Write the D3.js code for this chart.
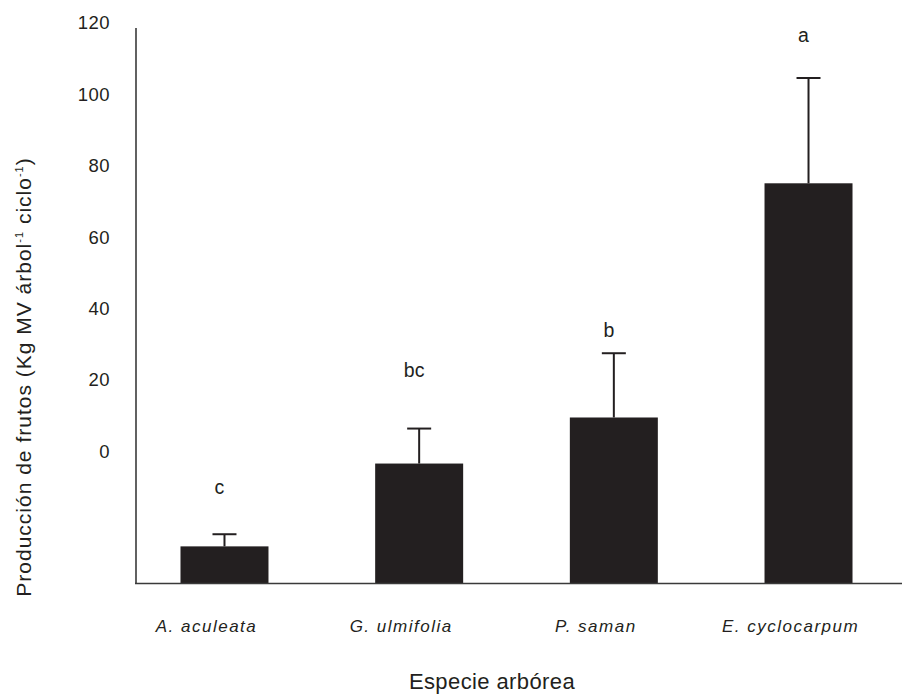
<!DOCTYPE html>
<html><head><meta charset="utf-8">
<script src="https://cdn.jsdelivr.net/npm/d3@7"></script>
<style>body{margin:0;background:#fff}svg{display:block}text{font-family:"Liberation Sans",Arial,Helvetica,sans-serif;fill:#231f20}</style>
</head><body>
<script>
const categories = ["A. aculeata","G. ulmifolia","P. saman","E. cyclocarpum"];
const means = [-26.6, -3.4, 9.5, 75.1];
const errors = [3.4, 9.8, 18.0, 29.5];
const letters = ["c","bc","b","a"];
const letterValues = [-10, 22.8, 34, 116.6];
const tickValues = [0,20,40,60,80,100,120];
const axisMin = -37;

const W=902,H=695;
const svg=d3.select("body").append("svg").attr("width",W).attr("height",H);
const x=d3.scaleBand().domain(categories).range([137,896]).paddingInner(0.548).paddingOuter(0.2234);
const y=d3.scaleLinear().domain([axisMin,120]).range([583.5,23]);
const ink="#231f20";

// y tick labels
svg.selectAll(".yt").data(tickValues).join("text")
  .attr("x",110).attr("y",d=>y(d)).attr("dy","0.35em").attr("text-anchor","end")
  .attr("font-size",18.5).attr("letter-spacing",0.5).text(d=>d);

// bars
svg.selectAll(".bar").data(categories).join("rect")
  .attr("x",d=>x(d)).attr("width",x.bandwidth())
  .attr("y",(d,i)=>y(means[i])).attr("height",(d,i)=>y(axisMin)-y(means[i]))
  .attr("fill",ink);

// error bars
const g=svg.append("g").attr("stroke",ink);
categories.forEach((c,i)=>{
  const cx=x(c)+x.bandwidth()/2;
  g.append("line").attr("x1",cx).attr("x2",cx).attr("y1",y(means[i])).attr("y2",y(means[i]+errors[i])).attr("stroke-width",2);
  g.append("line").attr("x1",cx-12).attr("x2",cx+12).attr("y1",y(means[i]+errors[i])).attr("y2",y(means[i]+errors[i])).attr("stroke-width",2);
});

// letters
svg.selectAll(".lt").data(categories).join("text")
  .attr("x",d=>x(d)+x.bandwidth()/2-5).attr("y",(d,i)=>y(letterValues[i])).attr("dy","0.35em")
  .attr("text-anchor","middle").attr("font-size",19.5).text((d,i)=>letters[i]);

// axes lines
svg.append("line").attr("x1",136).attr("x2",136).attr("y1",28).attr("y2",584).attr("stroke","#3a3a3a").attr("stroke-width",1.6);
svg.append("line").attr("x1",135).attr("x2",902).attr("y1",583.5).attr("y2",583.5).attr("stroke","#3a3a3a").attr("stroke-width",1.6);

// x labels
svg.selectAll(".xl").data(categories).join("text")
  .attr("x",d=>x(d)+x.bandwidth()/2-18).attr("y",632).attr("text-anchor","middle")
  .attr("font-size",17).attr("letter-spacing",1.5).attr("font-style","italic").text(d=>d);

// titles
svg.append("text").attr("x",492).attr("y",689).attr("text-anchor","middle").attr("font-size",22).attr("letter-spacing",0.4).text("Especie arbórea");
const yt=svg.append("text").attr("transform","translate(31,377) rotate(-90)").attr("text-anchor","middle").attr("font-size",21).attr("letter-spacing",1);
yt.append("tspan").text("Producción de frutos (Kg MV árbol");
yt.append("tspan").attr("font-size",11).attr("dy",-8).text("-1");
yt.append("tspan").attr("dy",8).text(" ciclo");
yt.append("tspan").attr("font-size",11).attr("dy",-8).text("-1");
yt.append("tspan").attr("dy",8).text(")");
</script>
</body></html>
